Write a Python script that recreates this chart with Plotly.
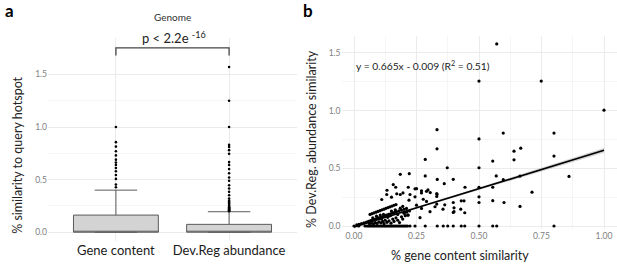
import plotly.graph_objects as go

W, H = 617, 270
FONT = "Lato"

# ---------------- Panel a data ----------------
box_categories = ["Gene content", "Dev.Reg abundance"]
box_q1 = [0.0, 0.0]
box_median = [0.0, 0.0]
box_q3 = [0.163, 0.075]
box_lower = [0.0, 0.0]
box_upper = [0.40, 0.195]
gene_outliers = [0.427, 0.453, 0.507, 0.544, 0.58, 0.61, 0.64, 0.663, 0.69,
                 0.73, 0.77, 0.814, 0.856, 1.0]
devreg_outliers = [0.20, 0.205, 0.21, 0.215, 0.22, 0.225, 0.23, 0.235, 0.24,
                   0.25, 0.26, 0.27, 0.28, 0.29, 0.30, 0.32, 0.352, 0.384,
                   0.415, 0.446, 0.49, 0.52, 0.56, 0.60, 0.64, 0.667, 0.745,
                   0.78, 0.81, 0.83, 1.0, 1.25, 1.57]
a_yticks = [0, 0.5, 1.0, 1.5]
a_yticktext = ["0.0", "0.5", "1.0", "1.5"]

# ---------------- Panel b data ----------------
# points on the zero line
zero_x = [0.0, 0.019, 0.044, 0.052, 0.058, 0.064, 0.07, 0.076, 0.082, 0.088,
          0.094, 0.1, 0.106, 0.112, 0.118, 0.124, 0.13, 0.136, 0.142, 0.148,
          0.154, 0.16, 0.166, 0.172, 0.178, 0.184, 0.19, 0.196, 0.202, 0.208,
          0.214, 0.224, 0.244, 0.285, 0.333, 0.357, 0.375, 0.397, 0.429,
          0.443, 0.5, 0.555, 0.571, 0.8]
zero_y = [0.0] * len(zero_x)
# dense lower diagonal
low_x = [0.011, 0.02, 0.03, 0.04, 0.05, 0.058, 0.066, 0.074, 0.082, 0.09,
         0.098, 0.106, 0.114, 0.122, 0.13, 0.138, 0.146, 0.154, 0.162, 0.17,
         0.18, 0.19, 0.2, 0.21]
low_y = [0.009, 0.014, 0.02, 0.027, 0.034, 0.04, 0.046, 0.052, 0.058, 0.064,
         0.07, 0.076, 0.082, 0.088, 0.094, 0.1, 0.106, 0.112, 0.118, 0.124,
         0.131, 0.138, 0.145, 0.152]
# upper diagonal
up_x = [0.064, 0.072, 0.08, 0.088, 0.096, 0.104, 0.112, 0.12, 0.128, 0.136,
        0.144, 0.152, 0.16, 0.168]
up_y = [0.10, 0.107, 0.113, 0.12, 0.126, 0.133, 0.14, 0.146, 0.153, 0.16,
        0.166, 0.173, 0.18, 0.186]
# cluster near origin
clu_x = [0.062, 0.07, 0.078, 0.085, 0.092, 0.1, 0.108, 0.115, 0.12, 0.125,
         0.132, 0.14, 0.148, 0.155, 0.16, 0.168, 0.175, 0.182, 0.19, 0.195,
         0.205, 0.2, 0.21, 0.215, 0.222, 0.075, 0.09, 0.105, 0.11, 0.118,
         0.135, 0.145, 0.15, 0.165, 0.175, 0.185, 0.195]
clu_y = [0.02, 0.025, 0.018, 0.03, 0.022, 0.035, 0.028, 0.04, 0.02, 0.05,
         0.032, 0.045, 0.025, 0.06, 0.04, 0.07, 0.05, 0.03, 0.08, 0.06,
         0.09, 0.11, 0.12, 0.095, 0.13, 0.07, 0.085, 0.095, 0.06, 0.1,
         0.075, 0.09, 0.13, 0.14, 0.1, 0.155, 0.17]
# scattered points
sc_x = [0.111, 0.131, 0.132, 0.15, 0.157, 0.167, 0.171, 0.185, 0.185, 0.196,
        0.221, 0.217, 0.22, 0.224, 0.217, 0.244, 0.244, 0.25, 0.25, 0.264,
        0.27, 0.27, 0.27, 0.277, 0.285, 0.285, 0.29, 0.29, 0.296, 0.304,
        0.305, 0.324, 0.331, 0.331, 0.331, 0.332, 0.332, 0.332, 0.333, 0.361,
        0.363, 0.356, 0.373, 0.397, 0.397, 0.397, 0.4, 0.4, 0.427, 0.429,
        0.44, 0.443, 0.444, 0.5, 0.5, 0.5, 0.5, 0.5, 0.5, 0.555,
        0.555, 0.555, 0.569, 0.571, 0.597, 0.597, 0.6, 0.64, 0.64, 0.667,
        0.664, 0.664, 0.712, 0.749, 0.8, 0.8, 0.86, 1.0]
sc_y = [0.23, 0.273, 0.31, 0.25, 0.359, 0.336, 0.279, 0.273, 0.448, 0.287,
        0.454, 0.336, 0.224, 0.273, 0.095, 0.322, 0.253, 0.324, 0.181, 0.072,
        0.287, 0.305, 0.152, 0.232, 0.577, 0.434, 0.301, 0.213, 0.313, 0.124,
        0.29, 0.167, 0.281, 0.256, 0.19, 0.835, 0.669, 0.273, 0.404, 0.367,
        0.184, 0.146, 0.505, 0.405, 0.204, 0.118, 0.158, 0.124, 0.146, 0.218,
        0.218, 0.115, 0.336, 0.755, 0.505, 0.336, 0.253, 0.204, 1.256, 0.563,
        0.336, 0.22, 0.434, 1.578, 0.806, 0.402, 0.204, 0.649, 0.574, 0.675,
        0.433, 0.17, 0.293, 1.256, 0.806, 0.606, 0.43, 1.004]
b_x = zero_x + low_x + up_x + clu_x + sc_x
b_y = zero_y + low_y + up_y + clu_y + sc_y

fit_slope, fit_intercept = 0.665, -0.009
band_x = [0.0, 0.125, 0.25, 0.375, 0.5, 0.625, 0.75, 0.875, 1.0]
band_half = [0.013, 0.01, 0.008, 0.008, 0.01, 0.012, 0.015, 0.018, 0.021]
b_xticks = [0, 0.25, 0.5, 0.75, 1.0]
b_xticktext = ["0.00", "0.25", "0.50", "0.75", "1.00"]
b_yticks = [0, 0.5, 1.0, 1.5]
b_yticktext = ["0.0", "0.5", "1.0", "1.5"]


def fx(p):
    return p / W


def fy(p):
    return 1 - p / H


fig = go.Figure()

# ---- panel a boxes ----
for i, cat in enumerate(box_categories):
    fig.add_trace(go.Box(
        x=[i], q1=[box_q1[i]], median=[box_median[i]], q3=[box_q3[i]],
        lowerfence=[box_lower[i]], upperfence=[box_upper[i]],
        width=0.75, fillcolor="#d3d3d3", line=dict(color="#5a5a5a", width=1),
        boxpoints=False, xaxis="x", yaxis="y", name=cat))
fig.add_trace(go.Scatter(
    x=[0] * len(gene_outliers) + [1] * len(devreg_outliers),
    y=gene_outliers + devreg_outliers, mode="markers",
    marker=dict(color="black", size=2.6), xaxis="x", yaxis="y"))

# bracket
fig.add_trace(go.Scatter(x=[0, 0, 1, 1], y=[1.68, 1.752, 1.752, 1.68],
                         mode="lines", line=dict(color="#444444", width=1.3),
                         xaxis="x", yaxis="y"))

# ---- panel b ----
band_lo = [fit_slope * x + fit_intercept - h for x, h in zip(band_x, band_half)]
band_hi = [fit_slope * x + fit_intercept + h for x, h in zip(band_x, band_half)]
fig.add_trace(go.Scatter(x=band_x + band_x[::-1], y=band_hi + band_lo[::-1],
                         fill="toself", fillcolor="rgba(150,150,150,0.4)",
                         line=dict(width=0), mode="lines",
                         xaxis="x2", yaxis="y2"))
fig.add_trace(go.Scatter(x=b_x, y=b_y, mode="markers",
                         marker=dict(color="black", size=3.2),
                         xaxis="x2", yaxis="y2"))
fig.add_trace(go.Scatter(x=[0, 1],
                         y=[fit_intercept, fit_slope + fit_intercept],
                         mode="lines", line=dict(color="black", width=1.6),
                         xaxis="x2", yaxis="y2"))

grid = "#ebebeb"
minor_grid = "#f5f5f5"
tickfont = dict(family=FONT, size=8.5, color="#808080")

fig.update_layout(
    width=W, height=H, margin=dict(l=0, r=0, t=0, b=0),
    paper_bgcolor="white", plot_bgcolor="white", showlegend=False,
    font=dict(family=FONT, color="#222222"),
    xaxis=dict(domain=[fx(48), fx(297)], range=[-0.6, 1.6],
               tickvals=[0, 1], ticktext=box_categories,
               tickfont=dict(family=FONT, size=13, color="#1a1a1a"),
               showgrid=True, gridcolor=grid, gridwidth=1, zeroline=False,
               ticks="", showline=False),
    yaxis=dict(domain=[fy(243.3), fy(38.6)], range=[-0.088, 1.843],
               tickvals=a_yticks, ticktext=a_yticktext, tickfont=tickfont,
               showgrid=True, gridcolor=grid, zeroline=False, ticks="",
               minor=dict(tickvals=[0.25, 0.75, 1.25], showgrid=True,
                          gridcolor=minor_grid)),
    xaxis2=dict(domain=[fx(341.5), fx(616.5)], range=[-0.05, 1.05],
                tickvals=b_xticks, ticktext=b_xticktext, tickfont=tickfont,
                showgrid=True, gridcolor=grid, zeroline=False, ticks="",
                anchor="y2", ticklabeloverflow="allow",
                minor=dict(tickvals=[0.125, 0.375, 0.625, 0.875],
                           showgrid=True, gridcolor=minor_grid)),
    yaxis2=dict(domain=[fy(231), fy(36.1)], range=[-0.0284, 1.6485],
                tickvals=b_yticks, ticktext=b_yticktext, tickfont=tickfont,
                showgrid=True, gridcolor=grid, zeroline=False, ticks="",
                anchor="x2",
                minor=dict(tickvals=[0.25, 0.75, 1.25], showgrid=True,
                           gridcolor=minor_grid)),
)

ann = [
    dict(text="<b>a</b>", x=fx(9.5), y=fy(11), font=dict(size=17, color="black")),
    dict(text="<b>b</b>", x=fx(307.5), y=fy(11), font=dict(size=17, color="black")),
    dict(text="Genome", x=fx(172), y=fy(17.5), font=dict(size=10, color="#333333")),
    dict(text="p < 2.2e <sup>-16</sup>", x=fx(174), y=fy(38),
         font=dict(size=13, color="#222222")),
    dict(text="% similarity to query hotspot", x=fx(18), y=fy(157),
         textangle=-90, font=dict(size=12.5, color="#222222")),
    dict(text="% gene content similarity", x=fx(460), y=fy(257),
         font=dict(size=12.5, color="#222222")),
    dict(text="% Dev.Reg. abundance similarity", x=fx(312), y=fy(140),
         textangle=-90, font=dict(size=12.5, color="#222222")),
]
for a in ann:
    fig.add_annotation(xref="paper", yref="paper", showarrow=False,
                       xanchor="center", yanchor="middle", **a)
fig.add_annotation(xref="paper", yref="paper", showarrow=False,
                   xanchor="left", yanchor="middle", x=fx(354), y=fy(66),
                   text="y = 0.665x - 0.009 (R<sup>2</sup> = 0.51)",
                   font=dict(size=10.3, color="#222222"))

fig.write_html("out.html", config={"displayModeBar": False},
               post_script="document.body.style.margin='0';"
                           "document.body.style.padding='0';")
